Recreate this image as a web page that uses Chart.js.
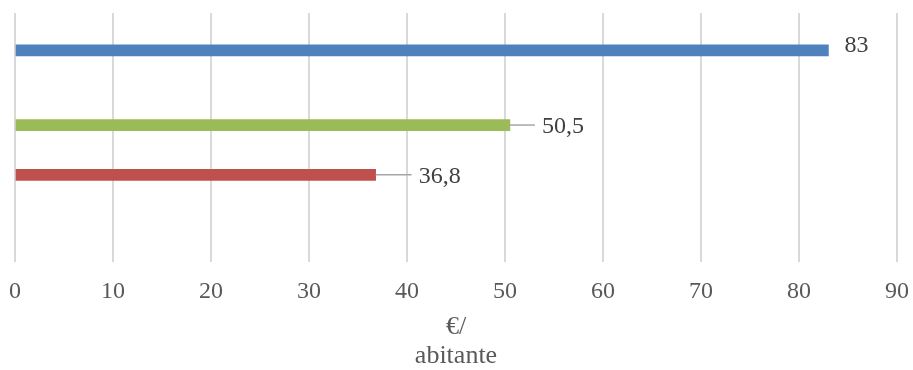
<!DOCTYPE html>
<html>
<head>
<meta charset="utf-8">
<script src="https://cdn.jsdelivr.net/npm/chart.js@4/dist/chart.umd.min.js"></script>
<style>
  html, body { margin: 0; padding: 0; background: #ffffff; }
  #wrap { width: 913px; height: 370px; }
</style>
</head>
<body>
<div id="wrap"><canvas id="chart"></canvas></div>
<script>
// Righe del grafico (slot vuoti per lasciare lo spazio tra le barre)
const rows = ['', '', '', '', '', '', '', '', '', ''];
const values = [null, 83, null, null, 50.5, null, 36.8, null, null, null];
const xTicks = [0, 10, 20, 30, 40, 50, 60, 70, 80, 90];
const axisTitle = ['€/', 'abitante'];

// Stile
const barColors = ['#4f81bd', '#4f81bd', '#9bbb59', '#9bbb59', '#9bbb59', '#c0504d', '#c0504d', '#c0504d', '#c0504d', '#c0504d'];
const leaderLen = [0, 0, 0, 0, 25, 0, 36, 0, 0, 0];
const fontFamily = '"Liberation Serif", "Times New Roman", serif';

// Etichette dei valori con linea di richiamo
const valueLabels = {
    id: 'valueLabels',
    afterDatasetsDraw(chart) {
        const ctx = chart.ctx;
        const meta = chart.getDatasetMeta(0);
        ctx.save();
        ctx.font = '24px ' + fontFamily;
        ctx.textBaseline = 'middle';
        ctx.fillStyle = '#404040';
        meta.data.forEach((bar, i) => {
            if (values[i] === null) return;
            const text = String(values[i]).replace('.', ',');
            let x = bar.x + 16;
            let y = bar.y - 5;
            if (leaderLen[i] > 0) {
                ctx.strokeStyle = '#a6a6a6';
                ctx.lineWidth = 1.5;
                ctx.beginPath();
                ctx.moveTo(bar.x, bar.y);
                ctx.lineTo(bar.x + leaderLen[i], bar.y);
                ctx.stroke();
                x = bar.x + leaderLen[i] + 7;
                y = bar.y + 2;
            }
            ctx.fillText(text, x, y);
        });
        ctx.restore();
    }
};

new Chart(document.getElementById('chart').getContext('2d'), {
    type: 'bar',
    data: {
        labels: rows,
        datasets: [{
            data: values,
            backgroundColor: barColors,
            barThickness: 11,
            skipNull: true
        }]
    },
    plugins: [valueLabels],
    options: {
        indexAxis: 'y',
        responsive: true,
        maintainAspectRatio: false,
        animation: false,
        layout: { padding: { left: 15, right: 16, top: 13, bottom: 0 } },
        plugins: {
            legend: { display: false },
            tooltip: { enabled: false }
        },
        scales: {
            x: {
                min: 0,
                max: 90,
                afterBuildTicks: (axis) => { axis.ticks = xTicks.map(v => ({ value: v })); },
                grid: { color: '#d9d9d9', lineWidth: 2, drawTicks: true, tickLength: 15, tickColor: 'rgba(0,0,0,0)' },
                border: { display: false },
                ticks: {
                    padding: 0,
                    color: '#595959',
                    font: { family: fontFamily, size: 24 }
                },
                title: {
                    display: true,
                    text: axisTitle,
                    color: '#595959',
                    font: { family: fontFamily, size: 26, lineHeight: 1.1 },
                    padding: { top: 7, bottom: 0 }
                }
            },
            y: {
                display: false
            }
        }
    }
});
</script>
</body>
</html>
